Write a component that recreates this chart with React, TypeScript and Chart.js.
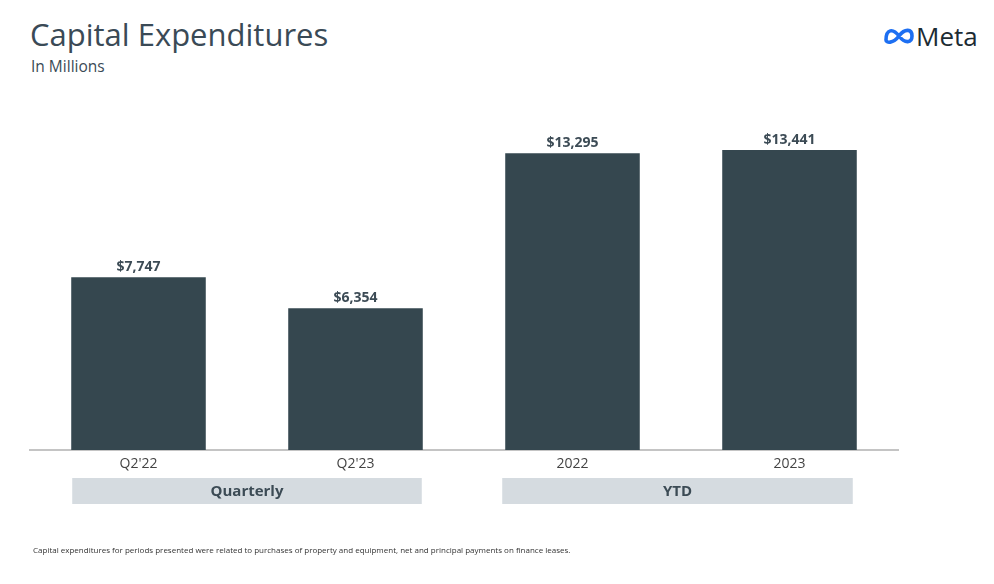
import React, { useEffect, useRef } from "react";
import { Chart, registerables } from "chart.js";

Chart.register(...registerables);

const categories = ["Q2'22", "Q2'23", "2022", "2023"];
const values = [7747, 6354, 13295, 13441];
const groupLabels = ["Quarterly", "YTD"];
const groupRanges = [[0, 1], [2, 3]];

const BAR = "#35474f";
const TEXT = "#3c4b55";

const fmt = (v: number) => "$" + v.toLocaleString("en-US");

const extrasPlugin = {
  id: "extras",
  afterDatasetsDraw(chart: any) {
    const { ctx } = chart;
    const meta = chart.getDatasetMeta(0);
    ctx.save();
    ctx.font = "bold 14px 'Open Sans', sans-serif";
    ctx.fillStyle = TEXT;
    ctx.textAlign = "center";
    ctx.textBaseline = "bottom";
    meta.data.forEach((bar: any, i: number) => {
      ctx.fillText(fmt(values[i]), bar.x, bar.y - 3);
    });
    // group boxes
    const shifts = [[1, -1], [-3, -4]];
    groupRanges.forEach((r, gi) => {
      const b0 = meta.data[r[0]];
      const b1 = meta.data[r[1]];
      const left = b0.x - b0.width / 2 + shifts[gi][0];
      const right = b1.x + b1.width / 2 + shifts[gi][1];
      const top = 478;
      const h = 26;
      ctx.fillStyle = "#d5dbe0";
      ctx.fillRect(left, top, right - left, h);
      ctx.fillStyle = TEXT;
      ctx.font = "bold 15px 'Open Sans', sans-serif";
      ctx.textBaseline = "middle";
      ctx.fillText(groupLabels[gi], (left + right) / 2, top + h / 2 + 1);
    });
    ctx.restore();
  },
};

export default function App() {
  const ref = useRef<HTMLCanvasElement>(null);
  useEffect(() => {
    if (!ref.current) return;
    const chart = new Chart(ref.current, {
      type: "bar",
      data: {
        labels: categories,
        datasets: [
          {
            data: values,
            backgroundColor: BAR,
            categoryPercentage: 0.62,
            barPercentage: 1,
          },
        ],
      },
      options: {
        animation: false,
        responsive: false,
        maintainAspectRatio: false,
        layout: { padding: { left: 30, right: 96, top: 93, bottom: 104 } },
        plugins: { legend: { display: false }, tooltip: { enabled: false }, title: { display: false } },
        scales: {
          x: {
            grid: { display: false },
            border: { display: true, color: "#c4c4c4", width: 2 },
            ticks: {
              color: "#444",
              font: { size: 14, family: "'Open Sans', sans-serif" },
              padding: -2,
            },
            afterFit: (s: any) => {
              s.height = 30;
            },
          },
          y: {
            display: false,
            min: 0,
            max: 16000,
          },
        },
      },
      plugins: [extrasPlugin],
    });
    return () => chart.destroy();
  }, []);

  return (
    <div style={{ position: "absolute", left: 0, top: 0, width: 994, height: 584, background: "#fff", fontFamily: "'Open Sans', sans-serif" }}>
      <div style={{ position: "absolute", left: 30, top: 13, fontSize: 31, color: "#3a4a56", lineHeight: "42px" }}>
        Capital Expenditures
      </div>
      <div style={{ position: "absolute", left: 31, top: 56, fontSize: 15.5, color: "#3a4a56", lineHeight: "20px" }}>
        In Millions
      </div>
      <div style={{ position: "absolute", left: 882, top: 21, display: "flex", alignItems: "center" }}>
        <svg width="34" height="24" viewBox="0 0 34 24">
          <path
            d="M4 16 C4 5, 11 4, 17 12 C23 20, 30 19, 30 12 C30 5, 23 4, 17 12 C11 20, 4 19, 4 16 Z"
            fill="none"
            stroke="#1d6ff2"
            strokeWidth="3.6"
            strokeLinejoin="round"
          />
        </svg>
        <span style={{ fontSize: 26, color: "#1c2b33", marginLeft: 0, lineHeight: "30px", fontWeight: 500 }}>Meta</span>
      </div>
      <canvas ref={ref} width={994} height={584} style={{ position: "absolute", left: 0, top: 0 }} />
      <div style={{ position: "absolute", left: 33, top: 545, fontSize: 8, color: "#333", lineHeight: "10px" }}>
        Capital expenditures for periods presented were related to purchases of property and equipment, net and principal payments on finance leases.
      </div>
    </div>
  );
}
